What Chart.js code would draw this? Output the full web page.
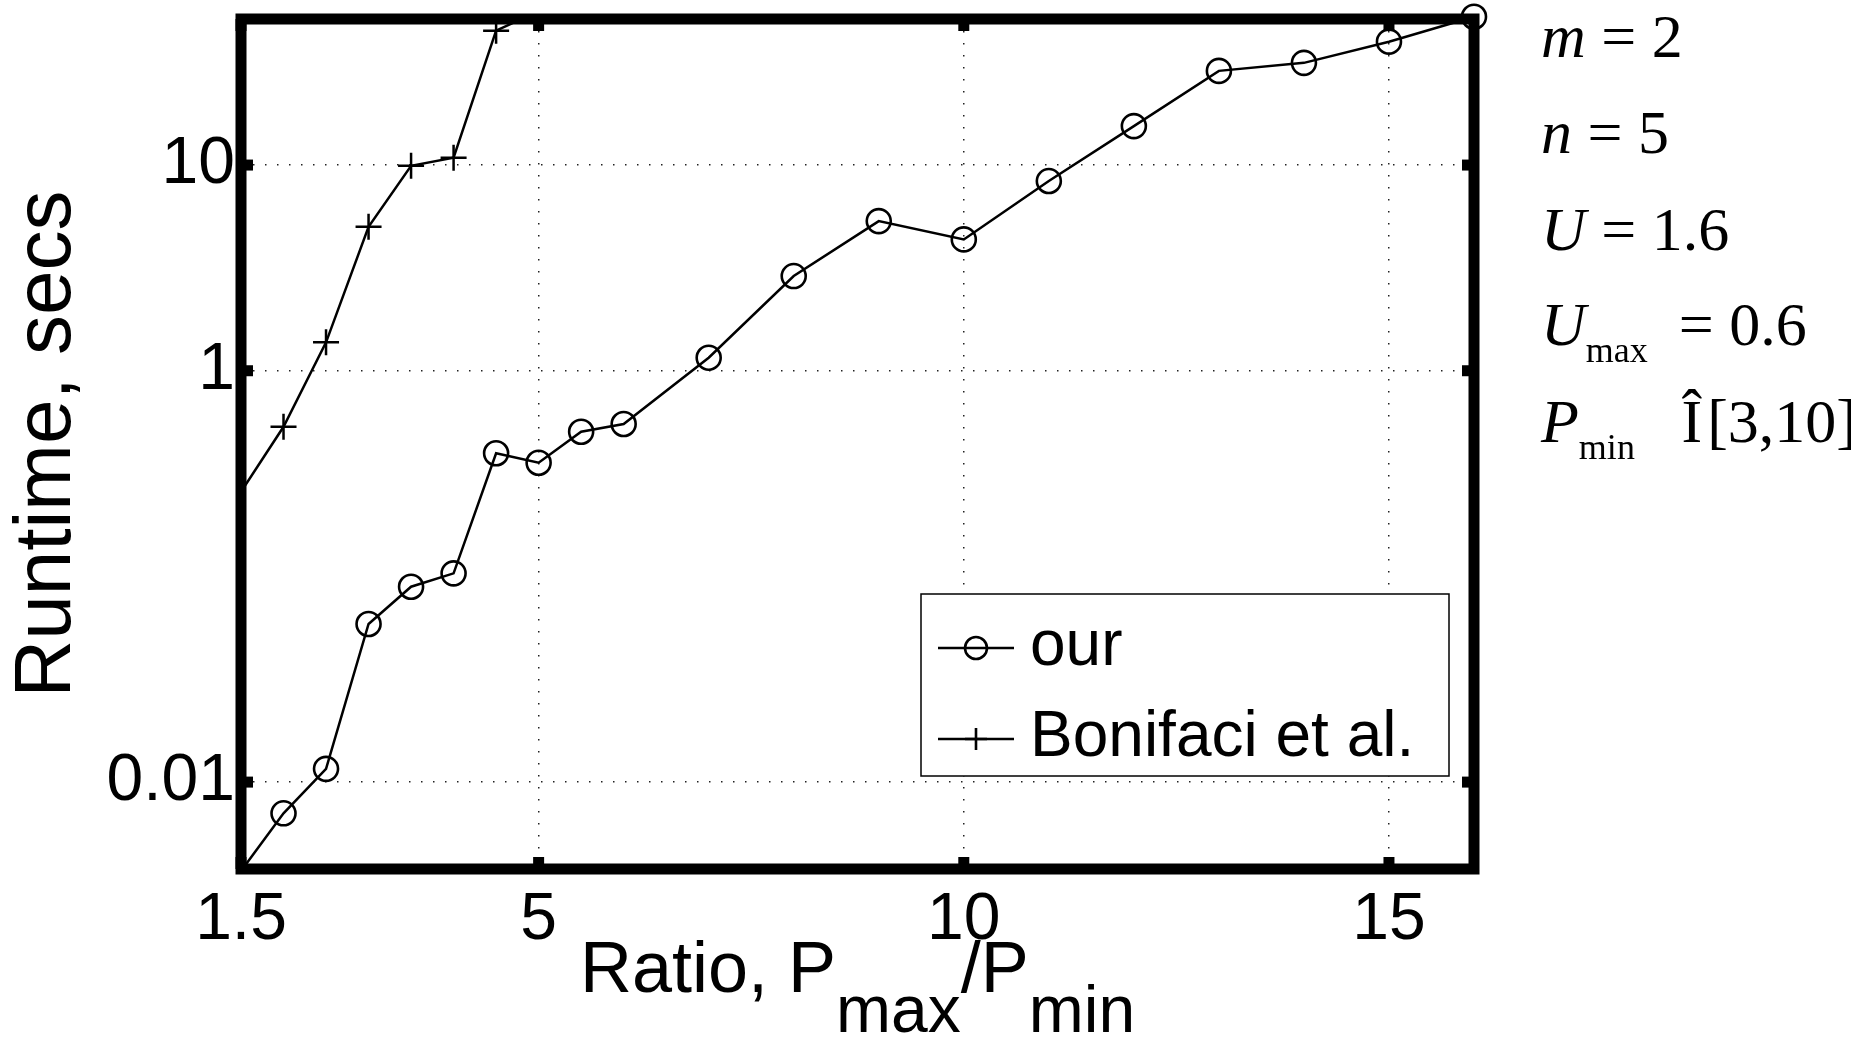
<!DOCTYPE html>
<html>
<head>
<meta charset="utf-8">
<title>Runtime vs. ratio</title>
<script src="https://cdn.jsdelivr.net/npm/chart.js@4.4.1/dist/chart.umd.min.js"></script>
<style>
  html, body { margin: 0; padding: 0; background: #fff; }
  #wrap { width: 1851px; height: 1037px; }
</style>
</head>
<body>
<div id="wrap"><canvas id="chart" width="1851" height="1037"></canvas></div>
<script>
// ======= Data =======
const ratioOur = [1.5, 2, 2.5, 3, 3.5, 4, 4.5, 5, 5.5, 6, 7, 8, 9, 10, 11, 12, 13, 14, 15, 16];
const runtimeOur = [0.0037, 0.00705, 0.0116, 0.0587, 0.0891, 0.1035, 0.397, 0.357, 0.505, 0.551,
                    1.157, 2.886, 5.34, 4.35, 8.36, 15.47, 28.7, 31.4, 39.8, 52.6];

const ratioBonifaci = [1.5, 2, 2.5, 3, 3.5, 4, 4.5, 5];
const runtimeBonifaci = [0.258, 0.534, 1.374, 5.01, 9.92, 10.85, 45.0, 56];

const xTicks = [1.5, 5, 10, 15];
const yTicks = [0.01, 1, 10];
const xRange = [1.5, 16];
const yRange = [0.00378, 51.3];

const legendLabels = ["our", "Bonifaci et al."];

// parameter block at the right (italic = variable name, sub = subscript)
const paramLines = [
  [{ t: "m", it: true }, { t: " = 2" }],
  [{ t: "n", it: true }, { t: " = 5" }],
  [{ t: "U", it: true }, { t: " = 1.6" }],
  [{ t: "U", it: true }, { t: "max", sub: true }, { t: "  = 0.6" }],
  [{ t: "P", it: true }, { t: "min", sub: true }, { t: "   Î\u200A" }, { t: "[3,10]" }]
];

// x title pieces
const xTitle = [{ t: "Ratio, P" }, { t: "max", sub: true }, { t: "/P" }, { t: "min", sub: true }];

const SANS = '"Liberation Sans", Arial, Helvetica, sans-serif';
const SERIF = '"Liberation Serif", "Times New Roman", serif';

// ======= Plugins =======
const matlabFrame = {
  id: "matlabFrame",
  afterDatasetsDraw(chart) {
    const { ctx, chartArea: a, scales: { x, y } } = chart;
    ctx.save();
    ctx.strokeStyle = "#000";
    ctx.lineWidth = 11;
    ctx.lineCap = "butt";
    const seg = (x1, y1, x2, y2) => {
      ctx.beginPath(); ctx.moveTo(x1, y1); ctx.lineTo(x2, y2); ctx.stroke();
    };
    xTicks.forEach(v => {
      const px = x.getPixelForValue(v);
      seg(px, a.bottom, px, a.bottom - 12);
      seg(px, a.top, px, a.top + 12);
    });
    yTicks.forEach(v => {
      const py = y.getPixelForValue(v);
      seg(a.left, py, a.left + 12, py);
      seg(a.right, py, a.right - 12, py);
    });
    ctx.strokeRect(a.left, a.top, a.right - a.left, a.bottom - a.top);
    ctx.restore();
  }
};

const legendBox = {
  id: "legendBox",
  afterDraw(chart) {
    const ctx = chart.ctx;
    ctx.save();
    ctx.fillStyle = "#fff";
    ctx.fillRect(921, 594, 528, 182);
    ctx.strokeStyle = "#000";
    ctx.lineWidth = 1.5;
    ctx.strokeRect(921, 594, 528, 182);

    const rows = [{ base: 665, mid: 648 }, { base: 756, mid: 739 }];
    rows.forEach((r, i) => {
      ctx.lineWidth = 2.5;
      ctx.beginPath(); ctx.moveTo(938, r.mid); ctx.lineTo(1014, r.mid); ctx.stroke();
      ctx.lineWidth = 2.6;
      ctx.beginPath();
      if (i === 0) {
        ctx.arc(976, r.mid, 11, 0, Math.PI * 2);
      } else {
        ctx.moveTo(965, r.mid); ctx.lineTo(987, r.mid);
        ctx.moveTo(976, r.mid - 11); ctx.lineTo(976, r.mid + 11);
      }
      ctx.stroke();
      ctx.fillStyle = "#000";
      ctx.font = "64px " + SANS;
      ctx.textBaseline = "alphabetic";
      ctx.textAlign = "left";
      ctx.fillText(legendLabels[i], 1030, r.base);
    });
    ctx.restore();
  }
};

const extraText = {
  id: "extraText",
  afterDraw(chart) {
    const { ctx, chartArea: a } = chart;
    ctx.save();
    ctx.fillStyle = "#000";
    ctx.textBaseline = "alphabetic";
    ctx.textAlign = "left";

    // x axis title with subscripts
    const fontFor = p => (p.sub ? "66px " : "72px ") + SANS;
    let total = 0;
    xTitle.forEach(p => { ctx.font = fontFor(p); total += ctx.measureText(p.t).width; });
    let cx = (a.left + a.right) / 2 - total / 2;
    xTitle.forEach(p => {
      ctx.font = fontFor(p);
      ctx.fillText(p.t, cx, p.sub ? 1032 : 992);
      cx += ctx.measureText(p.t).width;
    });

    // parameter block
    const bases = [57, 153, 250, 345, 442];
    paramLines.forEach((line, i) => {
      let px = 1541;
      line.forEach(p => {
        ctx.font = (p.it ? "italic " : "") + (p.sub ? "36px " : "62px ") + SERIF;
        ctx.fillText(p.t, px, bases[i] + (p.sub ? 17 : 0));
        px += ctx.measureText(p.t).width;
      });
    });
    ctx.restore();
  }
};

// ======= Chart =======
const ctx = document.getElementById("chart").getContext("2d");

new Chart(ctx, {
  type: "line",
  data: {
    datasets: [
      {
        label: legendLabels[0],
        data: ratioOur.map((r, i) => ({ x: r, y: runtimeOur[i] })),
        borderColor: "#000",
        borderWidth: 2.5,
        pointStyle: "circle",
        pointRadius: c => (c.dataIndex === 0 ? 0 : 12),
        pointBorderWidth: 2.6,
        pointBorderColor: "#000",
        pointBackgroundColor: "rgba(0,0,0,0)",
        tension: 0,
        clip: false
      },
      {
        label: legendLabels[1],
        data: ratioBonifaci.map((r, i) => ({ x: r, y: runtimeBonifaci[i] })),
        borderColor: "#000",
        borderWidth: 2.5,
        pointStyle: "cross",
        pointRadius: c => (c.dataIndex === 0 ? 0 : 13),
        pointBorderWidth: 2.5,
        pointBorderColor: "#000",
        tension: 0
      }
    ]
  },
  options: {
    responsive: false,
    animation: false,
    devicePixelRatio: 1,
    layout: { autoPadding: false, padding: { left: 0, right: 377, top: 19, bottom: 0 } },
    plugins: { legend: { display: false }, tooltip: { enabled: false } },
    scales: {
      x: {
        type: "linear",
        min: xRange[0],
        max: xRange[1],
        afterBuildTicks: s => { s.ticks = xTicks.map(v => ({ value: v })); },
        afterFit: s => { s.height = 168; s.paddingLeft = 0; s.paddingRight = 0; },
        grid: { color: "#222", lineWidth: 1.5, drawTicks: false },
        border: { display: false, dash: [1.5, 10.5] },
        ticks: {
          color: "#000",
          padding: 12,
          maxRotation: 0,
          autoSkip: false,
          font: { family: SANS, size: 66 },
          callback: v => String(v)
        }
      },
      y: {
        type: "logarithmic",
        min: yRange[0],
        max: yRange[1],
        afterBuildTicks: s => { s.ticks = yTicks.map(v => ({ value: v })); },
        afterFit: s => { s.width = 241; s.paddingTop = 0; s.paddingBottom = 0; },
        grid: { color: "#222", lineWidth: 1.5, drawTicks: false },
        border: { display: false, dash: [1.5, 10.5] },
        ticks: {
          color: "#000",
          padding: 6,
          autoSkip: false,
          font: { family: SANS, size: 66 },
          callback: v => String(v)
        },
        title: {
          display: true,
          text: "Runtime, secs",
          color: "#000",
          padding: 0,
          font: { family: SANS, size: 80 }
        }
      }
    }
  },
  plugins: [matlabFrame, legendBox, extraText]
});
</script>
</body>
</html>
